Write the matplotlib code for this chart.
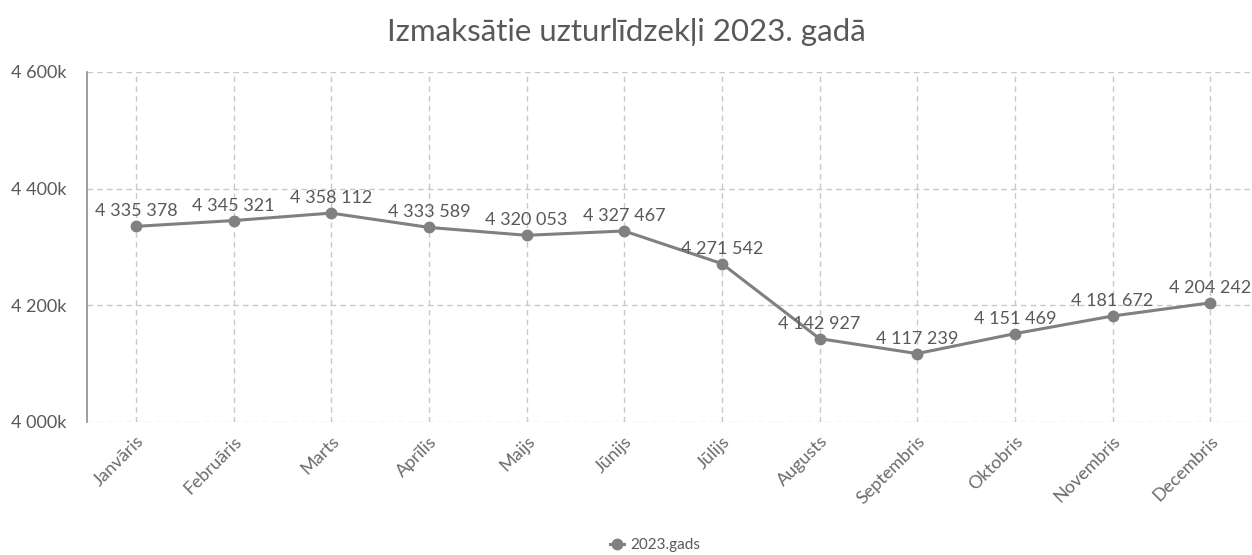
import matplotlib
matplotlib.use("Agg")
import matplotlib.pyplot as plt
from matplotlib.ticker import FuncFormatter

plt.rcParams['font.family'] = ['Lato', 'DejaVu Sans']

months = ["Janvāris", "Februāris", "Marts", "Aprīlis", "Maijs", "Jūnijs",
          "Jūlijs", "Augusts", "Septembris", "Oktobris", "Novembris", "Decembris"]
values = [4335378, 4345321, 4358112, 4333589, 4320053, 4327467,
          4271542, 4142927, 4117239, 4151469, 4181672, 4204242]
series_name = "2023.gads"
title = "Izmaksātie uzturlīdzekļi 2023. gadā"
yticks = [4000000, 4200000, 4400000, 4600000]

text_c = "#595959"
line_c = "#808080"
grid_c = "#c8c8c8"

fig = plt.figure(figsize=(12.52, 5.55), dpi=100)
ax = fig.add_axes([87/1252, 1-422/555, 1-87/1252, (422-72)/555])

x = list(range(len(months)))
ax.plot(x, values, color=line_c, lw=2.2, marker='o', ms=7.5, label=series_name, zorder=3)

def fmt_num(v):
    return f"{int(v):,}".replace(",", " ")

for xi, v in zip(x, values):
    ax.annotate(fmt_num(v), (xi, v), xytext=(0, 5), textcoords='offset points',
                ha='center', va='bottom', fontsize=13, color=text_c, zorder=4)

ax.set_ylim(4000000, 4600000)
ax.set_yticks(yticks)
ax.yaxis.set_major_formatter(FuncFormatter(lambda v, p: f"{int(v/1000):,}".replace(",", " ") + "k"))
ax.set_xlim(-0.5, 11.5 - 7/97.6)
ax.set_xticks(x)
ax.set_xticklabels(months, rotation=45, ha='right', rotation_mode='anchor')

ax.grid(True, color=grid_c, linestyle=(0, (4, 3)), lw=1)
ax.set_axisbelow(True)
for s in ['top', 'right', 'bottom']:
    ax.spines[s].set_visible(False)
ax.spines['left'].set_color("#8c8c8c")
ax.spines['left'].set_linewidth(1.2)
ax.tick_params(axis='both', length=0, colors=text_c, labelsize=13)
ax.tick_params(axis='x', pad=8, colors="#6b6b6b")
ax.tick_params(axis='y', pad=15)

fig.suptitle(title, y=1-32/555, va='center', fontsize=22.5, color=text_c)
fig.legend(loc='center', bbox_to_anchor=(655/1252, 1-545/555), frameon=False,
           fontsize=11, labelcolor=text_c, handlelength=0.9, handletextpad=0.4)

fig.savefig("out.png", dpi=100)
